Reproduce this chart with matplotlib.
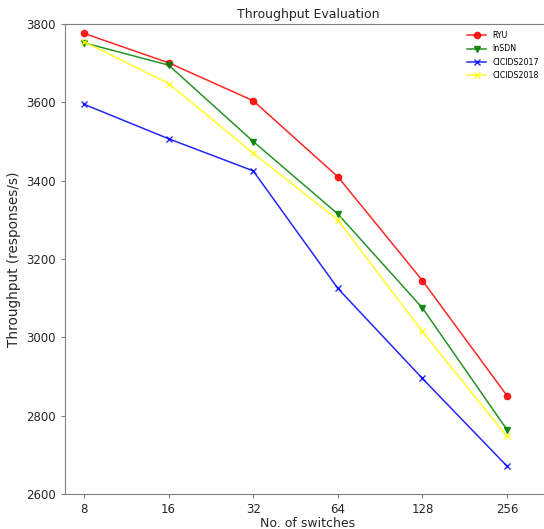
import matplotlib

matplotlib.use("Agg")
import matplotlib.pyplot as plt


switches = ["8", "16", "32", "64", "128", "256"]

ryu = [3776, 3701, 3604, 3410, 3145, 2851]
insdn = [3752, 3695, 3500, 3315, 3075, 2764]
cicids2017 = [3595, 3507, 3425, 3125, 2895, 2671]
cicids2018 = [3755, 3648, 3470, 3300, 3015, 2747]

series = [
    ("RYU", ryu, "red", "o"),
    ("InSDN", insdn, "green", "v"),
    ("CICIDS2017", cicids2017, "blue", "x"),
    ("CICIDS2018", cicids2018, "yellow", "x"),
]

fig = plt.figure(figsize=(5.44, 5.29), dpi=100)
# the axes runs a little past the right edge of the canvas
ax = fig.add_axes([65 / 544, 35 / 529, 486 / 544, 470 / 529])

x = list(range(len(switches)))
for label, values, color, marker in series:
    ax.plot(x, values, color=color, marker=marker, markersize=4.5,
            linewidth=1.1, alpha=0.85, label=label)

ax.set_xticks(x)
ax.set_xticklabels(switches)
ax.set_xlim(-0.225, 5.52)
ax.set_ylim(2600, 3800)
ax.set_yticks(range(2600, 3801, 200))

for spine in ax.spines.values():
    spine.set_color("#808080")
ax.tick_params(colors="#808080", labelcolor="#262626", labelsize=8.5, length=3)

ax.set_title("Throughput Evaluation", fontsize=9, color="#262626", pad=4)
ax.set_xlabel("No. of switches", fontsize=9, color="#262626", labelpad=1)
ax.set_ylabel("Throughput (responses/s)", fontsize=9.8, color="#262626")

ax.legend(loc="upper right", bbox_to_anchor=(546 / 544, 505 / 529),
          bbox_transform=fig.transFigure, frameon=False, fontsize=5.7,
          handlelength=2.4, labelspacing=0.55, borderaxespad=0.5)

fig.savefig("out.png", dpi=100)
